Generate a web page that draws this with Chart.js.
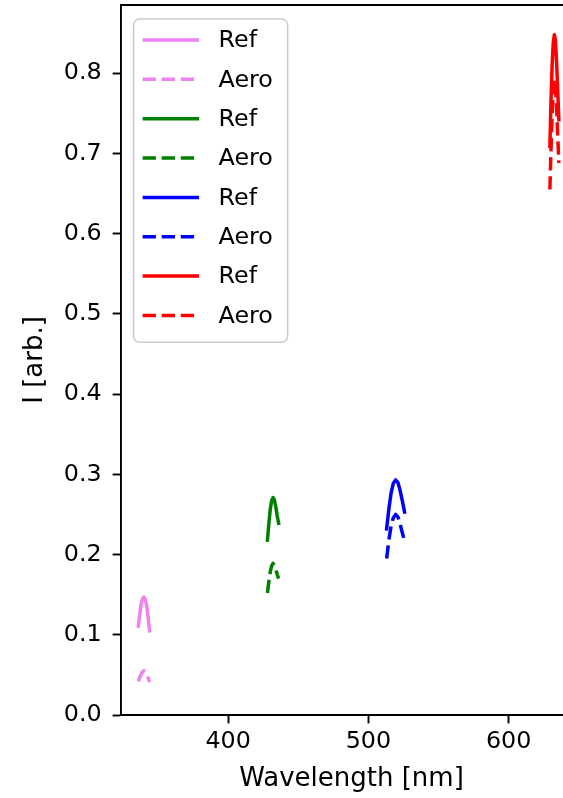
<!DOCTYPE html>
<html>
<head>
<meta charset="utf-8">
<script src="https://cdn.jsdelivr.net/npm/chart.js@4/dist/chart.umd.min.js"></script>
<style>
  html, body { margin: 0; padding: 0; overflow: hidden; background: #fff; }
  canvas { display: block; }
</style>
</head>
<body>
<canvas id="spectra" width="600" height="798"></canvas>
<script>
// Emission peaks: wavelength samples [nm] and intensities [arb.]
const violetWl   = [336.0, 337.0, 338.0, 339.0, 340.0, 341.0, 342.0, 343.0, 344.0];
const violetRef  = [0.111, 0.126, 0.138, 0.145, 0.147, 0.144, 0.135, 0.121, 0.105];
const violetAero = [0.042, 0.047, 0.051, 0.054, 0.055, 0.054, 0.051, 0.046, 0.041];

const greenWl   = [428.0, 429.0, 430.0, 431.0, 432.0, 433.0, 434.0, 435.0, 436.0];
const greenRef  = [0.218, 0.238, 0.256, 0.267, 0.271, 0.268, 0.259, 0.248, 0.239];
const greenAero = [0.152, 0.166, 0.178, 0.186, 0.189, 0.187, 0.181, 0.175, 0.170];

const blueWl   = [513.0, 514.6, 516.2, 517.8, 519.4, 521.0, 522.6, 524.2, 525.8];
const blueRef  = [0.232, 0.257, 0.277, 0.289, 0.293, 0.290, 0.280, 0.267, 0.253];
const blueAero = [0.195, 0.218, 0.236, 0.246, 0.250, 0.247, 0.238, 0.227, 0.216];

const redWl   = [629.4, 630.2, 631.0, 631.8, 632.6, 633.4, 634.2, 635.0, 635.8];
const redRef  = [0.709, 0.766, 0.810, 0.838, 0.848, 0.840, 0.813, 0.778, 0.742];
const redAero = [0.655, 0.705, 0.748, 0.779, 0.792, 0.784, 0.757, 0.722, 0.688];

const xTickValues = [400, 500, 600];
const yTickValues = [0.0, 0.1, 0.2, 0.3, 0.4, 0.5, 0.6, 0.7, 0.8];

const refLabel = 'Ref';
const aeroLabel = 'Aero';

const FONT = 'DejaVu Sans';
const FONT_SIZE = 23.8;
const TITLE_SIZE = 26;
const LINE_W = 3.5;
const DASH = [13.3, 5.8];

function points(xs, ys) {
  return xs.map((x, i) => ({ x: x, y: ys[i] }));
}

function pair(color, xs, ref, aero) {
  return [
    { label: refLabel, data: points(xs, ref), borderColor: color, borderWidth: LINE_W,
      borderDash: [], borderJoinStyle: 'round', borderCapStyle: 'square' },
    { label: aeroLabel, data: points(xs, aero), borderColor: color, borderWidth: LINE_W,
      borderDash: DASH, borderJoinStyle: 'round', borderCapStyle: 'butt' }
  ];
}

const datasets = [].concat(
  pair('violet', violetWl, violetRef, violetAero),
  pair('green', greenWl, greenRef, greenAero),
  pair('blue', blueWl, blueRef, blueAero),
  pair('red', redWl, redRef, redAero)
);

// Top and right spines (left/bottom come from the axis borders)
const framePlugin = {
  id: 'frame',
  afterDraw(chart) {
    const { ctx, chartArea: a } = chart;
    ctx.save();
    ctx.strokeStyle = '#000';
    ctx.lineWidth = 1.9;
    ctx.beginPath();
    ctx.moveTo(a.left, a.top);
    ctx.lineTo(a.right, a.top);
    ctx.lineTo(a.right, a.bottom);
    ctx.stroke();
    ctx.restore();
  }
};

// Legend box in the upper-left corner of the plot area
const insetLegend = {
  id: 'insetLegend',
  afterDraw(chart) {
    const { ctx, chartArea: a } = chart;
    const items = chart.data.datasets;
    const left = a.left + 12.6, top = a.top + 14, w = 154, h = 323.3, r = 6;
    ctx.save();
    ctx.beginPath();
    ctx.moveTo(left + r, top);
    ctx.arcTo(left + w, top, left + w, top + h, r);
    ctx.arcTo(left + w, top + h, left, top + h, r);
    ctx.arcTo(left, top + h, left, top, r);
    ctx.arcTo(left, top, left + w, top, r);
    ctx.closePath();
    ctx.fillStyle = 'rgba(255,255,255,0.8)';
    ctx.fill();
    ctx.strokeStyle = '#cccccc';
    ctx.lineWidth = 1.6;
    ctx.stroke();

    const pitch = 39.35;
    items.forEach((ds, i) => {
      const y = top + 21 + i * pitch;
      ctx.beginPath();
      ctx.setLineDash(ds.borderDash || []);
      ctx.strokeStyle = ds.borderColor;
      ctx.lineWidth = LINE_W;
      ctx.moveTo(left + 9, y);
      ctx.lineTo(left + 65.5, y);
      ctx.stroke();
      ctx.setLineDash([]);
      ctx.fillStyle = '#000';
      ctx.font = FONT_SIZE + 'px "' + FONT + '"';
      ctx.textBaseline = 'middle';
      ctx.textAlign = 'left';
      ctx.fillText(ds.label, left + 85, y + 1);
    });
    ctx.restore();
  }
};

const tickFont = { family: FONT, size: FONT_SIZE };
const titleFont = { family: FONT, size: TITLE_SIZE };

new Chart(document.getElementById('spectra'), {
  type: 'line',
  data: { datasets: datasets },
  options: {
    responsive: false,
    animation: false,
    layout: { padding: { top: 5, right: 18, left: 0, bottom: 0 } },
    plugins: { legend: { display: false }, tooltip: { enabled: false } },
    elements: { point: { radius: 0 }, line: { tension: 0, fill: false } },
    scales: {
      x: {
        type: 'linear',
        min: 323.6,
        max: 652.3,
        afterBuildTicks: s => { s.ticks = xTickValues.map(v => ({ value: v })); },
        afterFit: s => { s.height = 83; s.paddingLeft = 0; s.paddingRight = 0; },
        grid: { drawOnChartArea: false, drawTicks: true, tickLength: 8.4, tickColor: '#000', tickWidth: 1.9 },
        border: { display: true, color: '#000', width: 1.9 },
        ticks: { color: '#000', font: tickFont, padding: 4, maxRotation: 0, autoSkip: false,
                 callback: v => String(v) },
        title: { display: true, text: 'Wavelength [nm]', color: '#000', font: titleFont,
                 padding: { top: 0, bottom: 3 } }
      },
      y: {
        type: 'linear',
        min: 0,
        max: 0.885,
        afterBuildTicks: s => { s.ticks = yTickValues.map(v => ({ value: v })); },
        afterFit: s => { s.width = 121; s.paddingTop = 0; s.paddingBottom = 0; },
        grid: { drawOnChartArea: false, drawTicks: true, tickLength: 8.4, tickColor: '#000', tickWidth: 1.9 },
        border: { display: true, color: '#000', width: 1.9 },
        ticks: { color: '#000', font: tickFont, padding: 11, autoSkip: false,
                 callback: v => Number(v).toFixed(1) },
        title: { display: true, text: 'I [arb.]', color: '#000', font: titleFont,
                 padding: { top: 20, bottom: 0 } }
      }
    }
  },
  plugins: [framePlugin, insetLegend]
});
</script>
</body>
</html>
